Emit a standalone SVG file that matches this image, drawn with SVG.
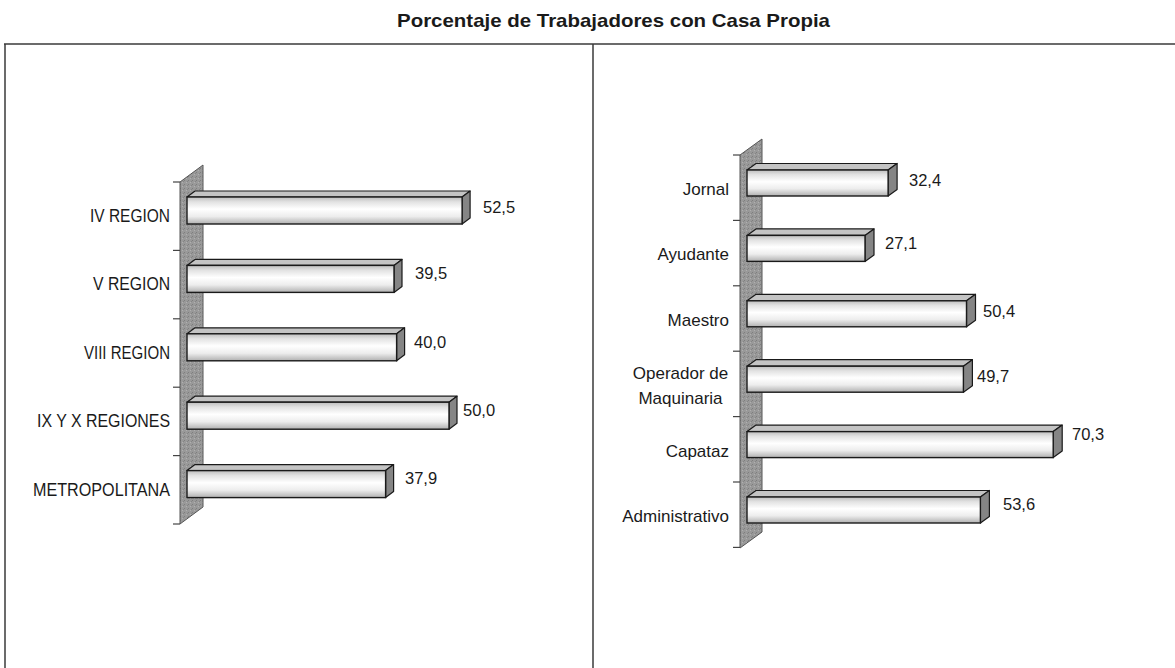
<svg xmlns="http://www.w3.org/2000/svg" width="1175" height="668" viewBox="0 0 1175 668">
<defs>
<linearGradient id="front" x1="0" y1="0" x2="0" y2="1">
<stop offset="0" stop-color="#bdbdbd"/>
<stop offset="0.18" stop-color="#e2e2e2"/>
<stop offset="0.45" stop-color="#ffffff"/>
<stop offset="0.72" stop-color="#ededed"/>
<stop offset="1" stop-color="#b0b0b0"/>
</linearGradient>
<pattern id="speck" width="4" height="4" patternUnits="userSpaceOnUse">
<rect width="4" height="4" fill="#999999"/>
<rect x="0" y="0" width="1" height="1" fill="#7e7e7e"/>
<rect x="2" y="2" width="1" height="1" fill="#b0b0b0"/>
<rect x="3" y="1" width="1" height="1" fill="#858585"/>
</pattern>
</defs>
<style>
.frame{stroke:#3a3a3a;stroke-width:1.5;fill:none}
.wall{fill:url(#speck);stroke:#555;stroke-width:1}
.tick{stroke:#444;stroke-width:1.2}
.fr{fill:url(#front);stroke:#1a1a1a;stroke-width:1.4}
.tp{fill:#c4c4c4;stroke:#1a1a1a;stroke-width:1.2;stroke-linejoin:round}
.sd{fill:#858585;stroke:#1a1a1a;stroke-width:1.2;stroke-linejoin:round}
.title{font-family:"Liberation Sans",Arial,sans-serif;font-weight:bold;font-size:19px;fill:#1a1a1a}
.lab{font-family:"Liberation Sans",Arial,sans-serif;font-size:17px;fill:#1a1a1a;text-anchor:end}
.labl{font-family:"Liberation Sans",Arial,sans-serif;font-size:18px;fill:#1a1a1a;text-anchor:end}
.labc{font-family:"Liberation Sans",Arial,sans-serif;font-size:17px;fill:#1a1a1a;text-anchor:middle}
.val{font-family:"Liberation Sans",Arial,sans-serif;font-size:16.5px;fill:#1a1a1a}
</style>
<rect width="1175" height="668" fill="#ffffff"/>
<text class="title" x="613.5" y="27" text-anchor="middle" textLength="433" lengthAdjust="spacingAndGlyphs">Porcentaje de Trabajadores con Casa Propia</text>
<g id="frame">
<line class="frame" x1="4" y1="44" x2="1175" y2="44"/>
<line class="frame" x1="5" y1="44" x2="5" y2="668"/>
<line class="frame" x1="593" y1="44" x2="593" y2="668"/>
</g>
<g id="left-axis">
<polygon class="wall" points="180,182 203,165 203,507 180,524"/>
<line class="tick" x1="173" y1="182" x2="180" y2="182"/>
<line class="tick" x1="173" y1="250.4" x2="180" y2="250.4"/>
<line class="tick" x1="173" y1="318.8" x2="180" y2="318.8"/>
<line class="tick" x1="173" y1="387.2" x2="180" y2="387.2"/>
<line class="tick" x1="173" y1="455.6" x2="180" y2="455.6"/>
<line class="tick" x1="173" y1="524" x2="180" y2="524"/>
</g>
<g id="right-axis">
<polygon class="wall" points="740,155 762,139 762,532 740,548"/>
<line class="tick" x1="733" y1="155" x2="740" y2="155"/>
<line class="tick" x1="733" y1="220.4" x2="740" y2="220.4"/>
<line class="tick" x1="733" y1="285.8" x2="740" y2="285.8"/>
<line class="tick" x1="733" y1="351.2" x2="740" y2="351.2"/>
<line class="tick" x1="733" y1="416.6" x2="740" y2="416.6"/>
<line class="tick" x1="733" y1="482" x2="740" y2="482"/>
<line class="tick" x1="733" y1="547.4" x2="740" y2="547.4"/>
</g>
<g id="connectors"></g>
<g id="bar-iv">
<polygon class="tp" points="187,197 195,191 470.1,191 462.1,197"/>
<polygon class="sd" points="462.1,197 470.1,191 470.1,218 462.1,224"/>
<rect class="fr" x="187" y="197" width="275.1" height="27"/>
<text class="labl" x="170" y="222" textLength="80" lengthAdjust="spacingAndGlyphs">IV REGION</text>
<text class="val" x="483" y="213">52,5</text>
</g>
<g id="bar-v">
<polygon class="tp" points="187,265.4 195,259.4 402,259.4 394,265.4"/>
<polygon class="sd" points="394,265.4 402,259.4 402,286.4 394,292.4"/>
<rect class="fr" x="187" y="265.4" width="207" height="27"/>
<text class="labl" x="170" y="290.4" textLength="77" lengthAdjust="spacingAndGlyphs">V REGION</text>
<text class="val" x="415" y="279">39,5</text>
</g>
<g id="bar-viii">
<polygon class="tp" points="187,333.8 195,327.8 404.6,327.8 396.6,333.8"/>
<polygon class="sd" points="396.6,333.8 404.6,327.8 404.6,354.8 396.6,360.8"/>
<rect class="fr" x="187" y="333.8" width="209.6" height="27"/>
<text class="labl" x="170" y="358.8" textLength="86" lengthAdjust="spacingAndGlyphs">VIII REGION</text>
<text class="val" x="414" y="348">40,0</text>
</g>
<g id="bar-ix">
<polygon class="tp" points="187,402.2 195,396.2 457,396.2 449,402.2"/>
<polygon class="sd" points="449,402.2 457,396.2 457,423.2 449,429.2"/>
<rect class="fr" x="187" y="402.2" width="262" height="27"/>
<text class="labl" x="170" y="427.2" textLength="133" lengthAdjust="spacingAndGlyphs">IX Y X REGIONES</text>
<text class="val" x="463" y="416">50,0</text>
</g>
<g id="bar-metro">
<polygon class="tp" points="187,470.6 195,464.6 393.6,464.6 385.6,470.6"/>
<polygon class="sd" points="385.6,470.6 393.6,464.6 393.6,491.6 385.6,497.6"/>
<rect class="fr" x="187" y="470.6" width="198.6" height="27"/>
<text class="labl" x="170" y="495.6" textLength="137" lengthAdjust="spacingAndGlyphs">METROPOLITANA</text>
<text class="val" x="405" y="484">37,9</text>
</g>
<g id="bar-jornal">
<polygon class="tp" points="747,170 756,163.5 897.1,163.5 888.1,170"/>
<polygon class="sd" points="888.1,170 897.1,163.5 897.1,189.5 888.1,196"/>
<rect class="fr" x="747" y="170" width="141.1" height="26"/>
<text class="lab" x="729" y="195">Jornal</text>
<text class="val" x="909" y="186">32,4</text>
</g>
<g id="bar-ayudante">
<polygon class="tp" points="747,235.4 756,228.9 874,228.9 865,235.4"/>
<polygon class="sd" points="865,235.4 874,228.9 874,254.9 865,261.4"/>
<rect class="fr" x="747" y="235.4" width="118" height="26"/>
<text class="lab" x="729" y="260.4">Ayudante</text>
<text class="val" x="885" y="249">27,1</text>
</g>
<g id="bar-maestro">
<polygon class="tp" points="747,300.8 756,294.3 975.5,294.3 966.5,300.8"/>
<polygon class="sd" points="966.5,300.8 975.5,294.3 975.5,320.3 966.5,326.8"/>
<rect class="fr" x="747" y="300.8" width="219.5" height="26"/>
<text class="lab" x="729" y="325.8">Maestro</text>
<text class="val" x="983" y="317">50,4</text>
</g>
<g id="bar-operador">
<polygon class="tp" points="747,366.2 756,359.7 972.4,359.7 963.4,366.2"/>
<polygon class="sd" points="963.4,366.2 972.4,359.7 972.4,385.7 963.4,392.2"/>
<rect class="fr" x="747" y="366.2" width="216.4" height="26"/>
<text class="labc" x="680.5" y="378.5">Operador de</text>
<text class="labc" x="680.5" y="403.5">Maquinaria</text>
<text class="val" x="977" y="382">49,7</text>
</g>
<g id="bar-capataz">
<polygon class="tp" points="747,431.6 756,425.1 1062.2,425.1 1053.2,431.6"/>
<polygon class="sd" points="1053.2,431.6 1062.2,425.1 1062.2,451.1 1053.2,457.6"/>
<rect class="fr" x="747" y="431.6" width="306.2" height="26"/>
<text class="lab" x="729" y="457">Capataz</text>
<text class="val" x="1072" y="440">70,3</text>
</g>
<g id="bar-administrativo">
<polygon class="tp" points="747,497 756,490.5 989.4,490.5 980.4,497"/>
<polygon class="sd" points="980.4,497 989.4,490.5 989.4,516.5 980.4,523"/>
<rect class="fr" x="747" y="497" width="233.4" height="26"/>
<text class="lab" x="729" y="522">Administrativo</text>
<text class="val" x="1003" y="510">53,6</text>
</g>
</svg>
